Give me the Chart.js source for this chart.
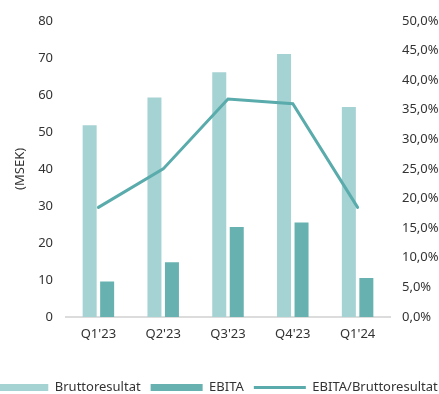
<!DOCTYPE html>
<html>
<head>
<meta charset="utf-8">
<script src="https://cdn.jsdelivr.net/npm/chart.js@4"></script>
<style>
  html, body { margin: 0; padding: 0; overflow: hidden; background: #fff; }
  #wrap { position: absolute; left: -18px; top: 0; width: 470px; height: 404px; }
</style>
</head>
<body>
<div id="wrap"><canvas id="chart"></canvas></div>
<script>
const quarters = ["Q1'23", "Q2'23", "Q3'23", "Q4'23", "Q1'24"];
const bruttoresultat = [51.8, 59.3, 66.1, 71.0, 56.7];
const ebita = [9.6, 14.8, 24.3, 25.5, 10.5];
const ebitaShare = [18.5, 25.0, 36.8, 36.0, 18.5]; // %

const textColor = '#333333';
const font = { family: 'Noto Sans', size: 13 };

Chart.defaults.font = font;
Chart.defaults.color = textColor;

new Chart(document.getElementById('chart'), {
  type: 'bar',
  data: {
    labels: quarters,
    datasets: [{
      label: 'Bruttoresultat',
      data: bruttoresultat,
      backgroundColor: '#a5d2d3',
      borderWidth: 0,
      pointStyle: 'rect',
      yAxisID: 'y',
      order: 1,
    },
    {
      label: 'EBITA',
      data: ebita,
      backgroundColor: '#67b1b1',
      borderWidth: 0,
      pointStyle: 'rect',
      yAxisID: 'y',
      order: 1,
    },
    {
      type: 'line',
      label: 'EBITA/Bruttoresultat',
      data: ebitaShare,
      borderColor: '#5aabab',
      backgroundColor: '#5aabab',
      borderWidth: 3,
      borderCapStyle: 'round',
      pointRadius: 0,
      pointStyle: 'line',
      tension: 0,
      yAxisID: 'pct',
      order: 0,
    }],
  },
  options: {
    responsive: true,
    maintainAspectRatio: false,
    animation: false,
    layout: { padding: { top: 18, left: 0, right: 0, bottom: 0 } },
    datasets: {
      bar: { barPercentage: 0.8, categoryPercentage: 0.54 },
    },
    plugins: {
      tooltip: { enabled: false },
      legend: {
        position: 'bottom',
        labels: {
          usePointStyle: true,
          pointStyleWidth: 52,
          boxHeight: 7,
          padding: 10,
          color: textColor,
          font: font,
          sort: (a, b) => a.datasetIndex - b.datasetIndex,
        },
      },
    },
    scales: {
      x: {
        grid: { display: false, drawTicks: false },
        border: { display: true, color: '#dcdcdc', width: 2 },
        ticks: { padding: 9, color: textColor, font: font },
        afterFit: (scale) => { scale.height = 54; },
      },
      y: {
        position: 'left',
        min: 0,
        max: 80,
        grid: { display: false, drawTicks: false },
        border: { display: false },
        ticks: { stepSize: 10, padding: 13, color: textColor, font: font },
        title: {
          display: true,
          text: '(MSEK)',
          color: textColor,
          font: font,
          padding: { top: 30, bottom: 0 },
        },
        afterFit: (scale) => { scale.width = 84; },
      },
      pct: {
        position: 'right',
        min: 0,
        max: 50,
        grid: { display: false, drawTicks: false },
        border: { display: false },
        ticks: {
          stepSize: 5,
          padding: 12,
          color: textColor,
          font: font,
          callback: (v) => v.toFixed(1).replace('.', ',') + '%',
        },
        afterFit: (scale) => { scale.width = 62; },
      },
    },
  },
});
</script>
</body>
</html>
